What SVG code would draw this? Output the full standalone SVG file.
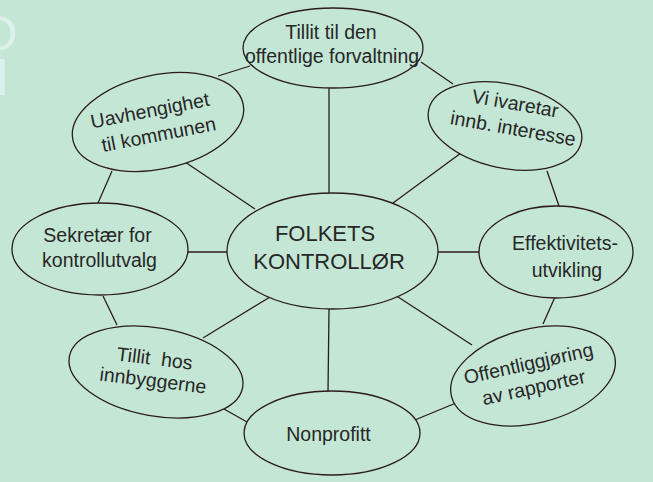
<svg xmlns="http://www.w3.org/2000/svg" width="653" height="482" viewBox="0 0 653 482">
<style>
.bg{fill:#c4e6d5}
.node{fill:#c4e6d5;stroke:#2b1b1c;stroke-width:1.3}
.conn line{stroke:#2b1b1c;stroke-width:1.3;fill:none}
.t{font-family:"Liberation Sans",Arial,sans-serif;font-size:19.5px;fill:#272727;text-anchor:middle}
.c{font-size:22px}
.wm{font-family:"Liberation Sans",Arial,sans-serif;fill:#ddf1ec}
</style>
<rect class="bg" x="0" y="0" width="653" height="482"/>
<g id="watermark">
<text class="wm"><tspan x="-20" y="50" font-size="48">O</tspan><tspan x="-5" y="95" font-size="52">I</tspan></text>
</g>
<g id="connectors" class="conn">
<line x1="329" y1="87" x2="329" y2="193"/>
<line x1="393" y1="203" x2="461" y2="153"/>
<line x1="438" y1="252" x2="479" y2="252"/>
<line x1="395" y1="295" x2="472" y2="345"/>
<line x1="329" y1="309" x2="328" y2="392"/>
<line x1="270" y1="297" x2="203" y2="338"/>
<line x1="188" y1="252" x2="227" y2="252"/>
<line x1="255" y1="209" x2="185" y2="162"/>
<line x1="218" y1="76" x2="250" y2="66"/>
<line x1="421" y1="62" x2="453" y2="84"/>
<line x1="547" y1="171" x2="559" y2="206"/>
<line x1="555" y1="297" x2="543" y2="324"/>
<line x1="456" y1="403" x2="410" y2="422"/>
<line x1="247" y1="422" x2="224" y2="409"/>
<line x1="117" y1="325" x2="103" y2="296"/>
<line x1="98" y1="203" x2="112" y2="171"/>
</g>
<g id="center">
<ellipse class="node" cx="332.5" cy="251" rx="105.5" ry="58"/>
<text class="t c" x="325" y="241">FOLKETS</text>
<text class="t c" x="329" y="269">KONTROLLØR</text>
</g>
<g id="n-top">
<ellipse class="node" cx="333" cy="48" rx="90" ry="40"/>
<text class="t" x="331" y="39">Tillit til den</text>
<text class="t" x="332" y="63">offentlige forvaltning</text>
</g>
<g id="n-topright">
<ellipse class="node" cx="505" cy="126" rx="78" ry="42" transform="rotate(12 505 126)"/>
<g transform="translate(513 122.5) rotate(10)">
<text class="t" x="-1.2" y="-12.5">Vi ivaretar</text>
<text class="t" x="1.2" y="12.5">innb. interesse</text>
</g>
</g>
<g id="n-right">
<ellipse class="node" cx="556" cy="252" rx="77" ry="46"/>
<text class="t" x="565" y="250">Effektivitets-</text>
<text class="t" x="567" y="277">utvikling</text>
</g>
<g id="n-bottomright">
<ellipse class="node" cx="533" cy="376" rx="84" ry="47" transform="rotate(-14 533 376)"/>
<g transform="translate(532.5 382) rotate(-12.5)">
<text class="t" x="0" y="-12.25">Offentliggjøring</text>
<text class="t" x="0" y="12.25">av rapporter</text>
</g>
</g>
<g id="n-bottom">
<ellipse class="node" cx="332" cy="433" rx="88" ry="42"/>
<text class="t" x="328.5" y="441">Nonprofitt</text>
</g>
<g id="n-bottomleft">
<ellipse class="node" cx="156" cy="372" rx="88" ry="44" transform="rotate(10 156 372)"/>
<g transform="translate(153 376) rotate(7)">
<text class="t" x="-0.5" y="-11" xml:space="preserve">Tillit  hos</text>
<text class="t" x="0.5" y="11">innbyggerne</text>
</g>
</g>
<g id="n-left">
<ellipse class="node" cx="100" cy="249" rx="88" ry="46"/>
<text class="t" x="97.5" y="242">Sekretær for</text>
<text class="t" x="99.5" y="267">kontrollutvalg</text>
</g>
<g id="n-topleft">
<ellipse class="node" cx="158" cy="122" rx="87" ry="47" transform="rotate(-12 158 122)"/>
<g transform="translate(155.5 129) rotate(-11)">
<text class="t" x="-2" y="-12.6">Uavhengighet</text>
<text class="t" x="2" y="12.6">til kommunen</text>
</g>
</g>
</svg>
